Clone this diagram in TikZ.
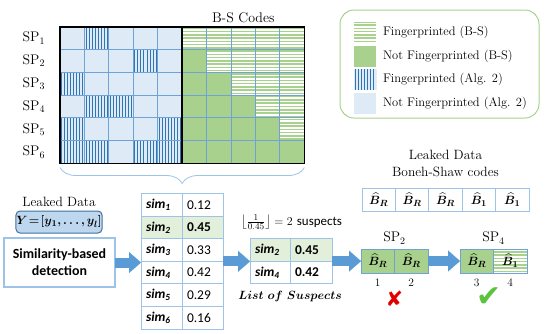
\documentclass[tikz,border=0pt]{standalone}
\usepackage{amsmath,bm}
\usepackage{fontspec}
\newfontfamily\calibri{Carlito}
\newfontfamily\symbolfont{DejaVu Sans}
\usetikzlibrary{arrows.meta, positioning, decorations.pathreplacing}

\definecolor{algbg}{HTML}{DEEBF7}
\definecolor{algline}{HTML}{2E75B6}
\definecolor{bsgreen}{HTML}{A9D18E}
\definecolor{gridblue}{HTML}{6FA3D8}
\definecolor{tabline}{HTML}{9DC3E6}
\definecolor{rowgreen}{HTML}{E2EFDA}
\definecolor{ydata}{HTML}{BDD7EE}
\definecolor{ydataline}{HTML}{41719C}
\definecolor{arrowblue}{HTML}{5B9BD5}
\definecolor{crossred}{HTML}{E00000}
\definecolor{tickgreen}{HTML}{5CC33C}

\begin{document}
\begin{tikzpicture}[x=1bp, y=-1bp,
  every node/.style={inner sep=0pt, outer sep=0pt},
  cell/.style={draw=gridblue, line width=0.9bp, minimum width=24.4bp, minimum height=22.8bp, anchor=north west},
  vstripes/.style={path picture={
    \foreach \k in {0,...,7}
      \draw[algline, line width=1bp]
        ([xshift={1.6bp+\k*3.05bp}]path picture bounding box.south west) --
        ([xshift={1.6bp+\k*3.05bp}]path picture bounding box.north west);}},
  hstripes/.style={path picture={
    \foreach \k in {0,...,6}
      \draw[bsgreen, line width=1.5bp]
        ([yshift={1.63bp+\k*3.26bp}]path picture bounding box.south west) --
        ([yshift={1.63bp+\k*3.26bp}]path picture bounding box.south east);}},
  alg0/.style={cell, fill=algbg},
  alg1/.style={alg0, vstripes},
  bs0/.style={cell, fill=bsgreen},
  bs1/.style={cell, fill=white, hstripes},
  serif/.style={font=\fontsize{13.5}{17}\selectfont},
  splabel/.style={font=\fontsize{14}{16}\selectfont},
  swatch/.style={minimum width=22bp, minimum height=21bp},
  legtext/.style={font=\fontsize{12.5}{14}\selectfont, anchor=west},
  tcell/.style={draw=tabline, line width=0.9bp, text width=31bp, inner xsep=5bp, minimum height=22.6bp, align=left, font=\calibri\fontsize{13.5}{15}\selectfont, anchor=north west},
  hicell/.style={tcell, fill=rowgreen},
  bcode/.style={font=\fontsize{13}{15}\selectfont},
  codecell/.style={bcode, draw=tabline, line width=1bp, minimum width=33.4bp, minimum height=23bp, anchor=north west},
  spcell/.style={bcode, draw=gridblue, line width=1bp, fill=bsgreen, minimum width=33.5bp, minimum height=24bp},
  numlabel/.style={font=\fontsize{11.5}{13}\selectfont},
  blockarr/.style={-{Triangle[length=12bp, width=21bp, line width=0.1bp]}, line width=10bp, arrowblue},
  brace/.style={decorate, decoration={brace, mirror, amplitude=16bp}, draw=tabline, line width=0.8bp}
]
\useasboundingbox (0,0) rectangle (545,333);

% Code matrix
\foreach \r in {1,...,6}
  \foreach \c in {1,...,5} {
    \node[alg0] (L-\r-\c) at ({60+24.4*(\c-1)}, {26.7+22.8*(\r-1)}) {};
    \node[bs0] (R-\r-\c) at ({182.3+24.4*(\c-1)}, {26.7+22.8*(\r-1)}) {};
  }
\foreach \r/\c in {1/2, 2/4, 3/1, 4/2, 4/3, 5/1, 5/5, 6/1, 6/2, 6/4, 6/5}
  \node[alg1] (F-\r-\c) at (L-\r-\c.north west) {};
\foreach \r in {1,...,5}
  \foreach \c in {\r,...,5}
    \node[bs1] (G-\r-\c) at (R-\r-\c.north west) {};
\draw[line width=1.6bp] (L-1-1.north west) rectangle (R-6-5.south east);
\draw[line width=1.6bp] (L-1-5.north east) -- (L-6-5.south east);

\foreach \r in {1,...,6}
  \node[splabel, left=15bp of L-\r-1] (sp\r) {SP$_\r$};
\node[splabel, above=4bp of R-1-3] (bscodes) {B-S Codes};
\draw[brace] ([yshift=-4bp]L-6-1.south west) -- ([yshift=-4bp]R-6-5.south east);

% Legend
\node[draw=bsgreen, line width=1bp, rounded corners=14bp, minimum width=199bp, minimum height=108bp, anchor=north west] (legend) at (340,10) {};
\node[swatch, fill=white, hstripes] (sw1) at (365,32.5) {};
\node[swatch, fill=bsgreen] (sw2) at (365,56.1) {};
\node[swatch, fill=algbg, vstripes] (sw3) at (365,79.7) {};
\node[swatch, fill=algbg] (sw4) at (365,103.3) {};
\node[legtext, right=7bp of sw1] (lt1) {Fingerprinted (B-S)};
\node[legtext, right=7bp of sw2] (lt2) {Not Fingerprinted (B-S)};
\node[legtext, right=7bp of sw3] (lt3) {Fingerprinted (Alg. 2)};
\node[legtext, right=7bp of sw4] (lt4) {Not Fingerprinted (Alg. 2)};

% Detection
\node[draw=ydataline, fill=ydata, line width=1bp, rounded corners=4bp, minimum width=86bp, minimum height=22bp] (ydata) at (59,222) {\fontsize{13}{15}\selectfont$\bm{Y\!=\![y_1,\ldots,y_l]}$};
\node[serif, above=4bp of ydata] (leaky) {Leaked Data};
\node[draw=tabline, line width=1.2bp, fill=white, minimum width=111bp, minimum height=49bp, align=center, font=\calibri\bfseries\fontsize{14}{17}\selectfont] (simdet) at (59.5,262.5) {Similarity-based\\detection};

% Similarity table
\foreach \i/\v/\s in {1/0.12/tcell, 2/\textbf{0.45}/hicell, 3/0.33/tcell, 4/0.42/tcell, 5/0.29/tcell, 6/0.16/tcell} {
  \node[\s] (simn\i) at (141, {193.5+22.6*(\i-1)}) {\textbf{\textit{sim\textsubscript{\i}}}};
  \node[\s, right=0pt of simn\i] (simv\i) {\v};
}

% Suspects
\node[hicell, text width=30bp] (susn1) at (250,238.5) {\textbf{\textit{sim\textsubscript{2}}}};
\node[hicell, text width=32bp, right=0pt of susn1] (susv1) {\textbf{0.45}};
\node[tcell, text width=30bp, below=0pt of susn1] (susn2) {\textbf{\textit{sim\textsubscript{4}}}};
\node[tcell, text width=32bp, right=0pt of susn2] (susv2) {\textbf{0.42}};
\node[anchor=west, font=\fontsize{13}{15}\selectfont] (floor) at (241,222) {$\left\lfloor\frac{1}{0.45}\right\rfloor = 2$ {\calibri suspects}};
\node[below=7bp of susn2.south east, font=\fontsize{13}{15}\selectfont] (suslabel) {$\bm{List\ of\ Suspects}$};

% Boneh-Shaw check
\foreach \i/\t in {1/R, 2/R, 3/R, 4/1, 5/1}
  \node[codecell] (code\i) at ({362+33.4*(\i-1)}, 188) {$\bm{\widehat{B}_\t}$};
\node[serif, align=center, above=11bp of code3] (bslabel) {Leaked Data\\Boneh-Shaw codes};

\node[spcell, anchor=north west] (sp2a) at (361,249) {$\bm{\widehat{B}_R}$};
\node[spcell, right=0pt of sp2a] (sp2b) {$\bm{\widehat{B}_R}$};
\node[spcell, anchor=north west] (sp4a) at (460,249) {$\bm{\widehat{B}_R}$};
\node[spcell, fill=white, hstripes, right=0pt of sp4a] (sp4b) {$\bm{\widehat{B}_1}$};
\node[splabel, above=5bp of sp2a.north east] (sp2lab) {SP$_2$};
\node[splabel, above=5bp of sp4a.north east] (sp4lab) {SP$_4$};
\node[numlabel, below=6bp of sp2a] (n1) {1};
\node[numlabel, below=6bp of sp2b] (n2) {2};
\node[numlabel, below=6bp of sp4a] (n3) {3};
\node[numlabel, below=6bp of sp4b] (n4) {4};
\node[text=crossred, font=\symbolfont\fontsize{21}{21}\selectfont, below=18bp of sp2a.south east] (fail) {✘};
\node[text=tickgreen, font=\symbolfont\fontsize{30}{30}\selectfont, below=15bp of sp4a.south east, xshift=-4bp] (pass) {✔};

% Arrows
\draw[blockarr] (simdet.east) -- (simdet.east -| simn1.west);
\draw[blockarr] (simv3.south east) -- (simv3.south east -| susn1.west);
\draw[blockarr] (susv1.south east) -- (susv1.south east -| sp2a.west);
\draw[blockarr] (sp2b.east) -- (sp4a.west);
\end{tikzpicture}
\end{document}
